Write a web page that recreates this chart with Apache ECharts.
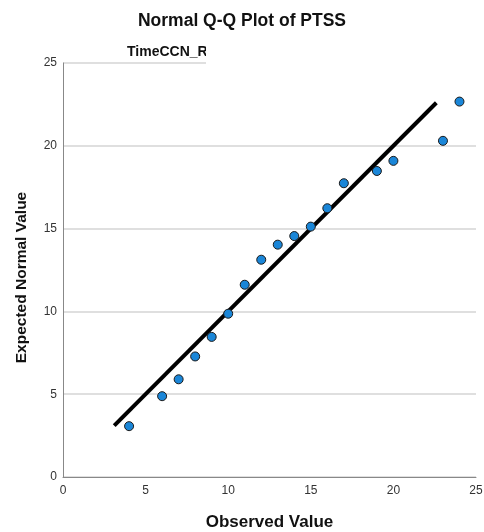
<!DOCTYPE html>
<html>
<head>
<meta charset="utf-8">
<script src="https://cdn.jsdelivr.net/npm/echarts@6/dist/echarts.min.js"></script>
<style>html,body{margin:0;padding:0;background:#fff}#c{width:484px;height:532px}</style>
</head>
<body>
<div id="c"></div>
<script>
var observed = [4, 6, 7, 8, 9, 10, 11, 12, 13, 14, 15, 16, 17, 19, 20, 23, 24];
var expected = [3.07, 4.88, 5.9, 7.28, 8.46, 9.86, 11.61, 13.12, 14.03, 14.55, 15.12, 16.23, 17.74, 18.48, 19.09, 20.3, 22.67];
var lineX = [3.1, 22.6];
var lineY = [3.1, 22.6];
var ticks = [0, 5, 10, 15, 20, 25];

var pts = observed.map(function (v, i) { return [v, expected[i]]; });
var linePts = lineX.map(function (v, i) { return [v, lineY[i]]; });

var chart = echarts.init(document.getElementById('c'));
chart.setOption({
  animation: false,
  backgroundColor: '#fff',
  title: [
    { text: 'Normal Q-Q Plot of PTSS', left: 'center', top: 12, padding: 0,
      textStyle: { fontFamily: 'Liberation Sans, Arial', fontWeight: 'bold', fontSize: 17.5, color: '#111' } },
    { text: 'TimeCCN_R', left: 127, top: 45, padding: 0,
      textStyle: { fontFamily: 'Liberation Sans, Arial', fontWeight: 'bold', fontSize: 14, color: '#111' } }
  ],
  grid: { left: 63, right: 8, top: 63, bottom: 55, containLabel: false, outerBoundsMode: 'none' },
  xAxis: {
    type: 'value', min: 0, max: 25, interval: 5,
    name: 'Observed Value', nameLocation: 'middle', nameGap: 37,
    nameTextStyle: { fontFamily: 'Liberation Sans, Arial', fontWeight: 'bold', fontSize: 17, color: '#111' },
    axisLine: { show: true, lineStyle: { color: '#888', width: 1 } },
    axisTick: { show: false },
    axisLabel: { fontFamily: 'Liberation Sans, Arial', fontSize: 12, color: '#333', margin: 8 },
    splitLine: { show: false }
  },
  yAxis: {
    type: 'value', min: 0, max: 25, interval: 5,
    name: 'Expected Normal Value', nameLocation: 'middle', nameGap: 33,
    nameTextStyle: { fontFamily: 'Liberation Sans, Arial', fontWeight: 'bold', fontSize: 15.5, color: '#111', padding: [0, 15, 0, 0] },
    axisLine: { show: true, lineStyle: { color: '#888', width: 1 } },
    axisTick: { show: false },
    axisLabel: { fontFamily: 'Liberation Sans, Arial', fontSize: 12, color: '#333', margin: 6 },
    splitLine: { show: true, lineStyle: { color: '#d4d4d4', width: 1.5 } }
  },
  graphic: [
    { type: 'rect', left: 206, top: 42, shape: { width: 278, height: 23 }, style: { fill: '#fff' }, z: 100 }
  ],
  series: [
    { type: 'line', data: linePts, symbol: 'none', lineStyle: { color: '#000', width: 4 }, z: 3 },
    { type: 'scatter', data: pts, symbol: 'circle', symbolSize: 9,
      itemStyle: { color: '#1a86d8', borderColor: '#1a1a1a', borderWidth: 1, opacity: 1 }, z: 4 }
  ]
});
</script>
</body>
</html>
